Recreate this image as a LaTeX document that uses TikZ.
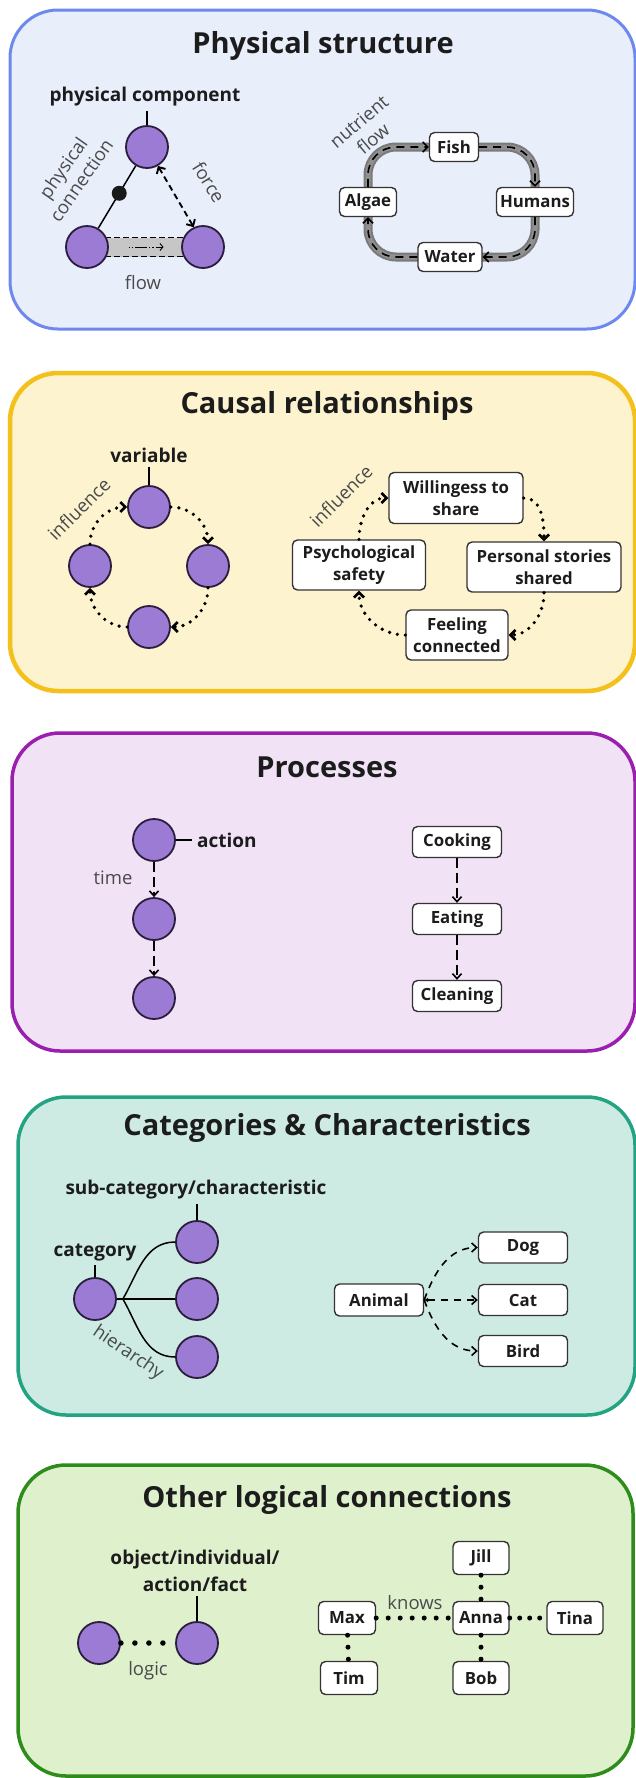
\documentclass[tikz,border=0pt]{standalone}
\usepackage{fontspec}
\setmainfont{Open Sans}
\usetikzlibrary{arrows.meta,calc}
\pgfdeclarelayer{panels}
\pgfdeclarelayer{under}
\pgfsetlayers{panels,under,main}
\definecolor{bluef}{HTML}{E9EEFB}
\definecolor{blued}{HTML}{6E88EE}
\definecolor{yelf}{HTML}{FDF3CF}
\definecolor{yeld}{HTML}{F3C01C}
\definecolor{purf}{HTML}{F1E2F5}
\definecolor{purd}{HTML}{9A1FAE}
\definecolor{tealf}{HTML}{CDEBE3}
\definecolor{teald}{HTML}{22A381}
\definecolor{grnf}{HTML}{DFF0CD}
\definecolor{grnd}{HTML}{2D8C1A}
\definecolor{circf}{HTML}{9B7BD4}
\definecolor{circd}{HTML}{2B1D3D}
\definecolor{titlec}{HTML}{1C1C1C}
\definecolor{labc}{HTML}{4A4A4A}
\definecolor{boxd}{HTML}{333333}
\definecolor{bandc}{HTML}{7A7A7A}
\definecolor{bandm}{HTML}{909090}
\definecolor{flowg}{HTML}{C6C6C6}
\begin{document}
\begin{tikzpicture}[x=1pt,y=1pt,
  panel/.style={rounded corners=48pt},
  ttl/.style={font=\fontsize{29}{33}\selectfont\bfseries, text=titlec, inner sep=0pt},
  blab/.style={font=\fontsize{19}{27}\selectfont\bfseries, text=titlec, inner sep=0pt},
  lab/.style={font=\fontsize{18.5}{22}\selectfont, text=labc, inner sep=0pt},
  comp/.style={circle, fill=circf, draw=circd, line width=1.8pt, minimum size=42pt, inner sep=0pt},
  box/.style={rectangle, rounded corners=5pt, draw=boxd, fill=white, line width=1.4pt,
    font=\fontsize{16.8}{22}\selectfont\bfseries, text=titlec, align=center,
    minimum height=30pt, inner sep=2pt},
  conn/.style={line width=1.5pt, draw=black},
  tip/.style={-{Straight Barb[length=5pt,width=9pt]}},
  dotarrow/.style={line width=3.6pt, dash pattern=on 0pt off 8pt, line cap=round,
    -{Straight Barb[length=5pt,width=10pt,line width=2.6pt]}},
  dasharrow/.style={line width=1.6pt, dash pattern=on 10pt off 5pt, tip},
  dashfan/.style={line width=1.6pt, dash pattern=on 7pt off 6pt},
  loopd/.style={line width=1.6pt, dash pattern=on 8pt off 6pt, rounded corners=28pt,
    -{Straight Barb[length=5pt,width=10pt]}},
  bigdots/.style={line width=5pt, dash pattern=on 0pt off 12pt, line cap=round},
]
\useasboundingbox (0,0) rectangle (636,-1778);
\begin{pgfonlayer}{panels}
\fill[white] (0,0) rectangle (636,-1778);
\draw[panel, fill=bluef, draw=blued, line width=3pt] (10,-10) rectangle (635,-329);
\draw[panel, fill=yelf, draw=yeld, line width=4.5pt] (10,-373) rectangle (635,-691);
\draw[panel, fill=purf, draw=purd, line width=3.5pt] (12,-733) rectangle (635,-1051);
\draw[panel, fill=tealf, draw=teald, line width=3.5pt] (18,-1097) rectangle (635,-1415);
\draw[panel, fill=grnf, draw=grnd, line width=3.5pt] (18,-1465) rectangle (633,-1776);
\end{pgfonlayer}

% ---------- Panel 1: Physical structure ----------
\node[ttl] (t1) at (323,-46) {Physical structure};
\node[blab] (pcl) at (145,-97) {physical component};
\node[comp] (c1) at (147,-147) {};
\node[comp] (c2) at (87,-247) {};
\node[comp] (c3) at (203,-247) {};
\draw[conn, shorten <=4pt] (c1.north |- pcl.south) -- (c1.north);
\draw[conn] (c1) -- (c2) node[pos=0.44, circle, fill=black!90, minimum size=15pt, inner sep=0pt] (dot) {};
\node[lab, rotate=55, align=center] (pcn) at (72,-174) {physical\\connection};
\draw[line width=1.9pt, dash pattern=on 6pt off 4pt,
  {Straight Barb[length=5pt,width=10pt]}-{Straight Barb[length=5pt,width=10pt]}]
  (c1.-60) -- (c3.115);
\node[lab, rotate=-58] (frc) at (209,-182) {force};
\begin{pgfonlayer}{under}
\fill[flowg] ($(c2.center)+(0,9.5)$) rectangle ($(c3.center)+(0,-9.5)$);
\draw[line width=1.4pt, dash pattern=on 6pt off 3pt] ($(c2.center)+(18,9.5)$) -- ($(c3.center)+(-18,9.5)$);
\draw[line width=1.4pt, dash pattern=on 6pt off 3pt] ($(c2.center)+(18,-9.5)$) -- ($(c3.center)+(-18,-9.5)$);
\end{pgfonlayer}
\draw[line width=0.9pt, dash pattern=on 1.2pt off 2pt on 1.2pt off 2pt on 12pt off 2pt,
  -{Straight Barb[length=3pt,width=7pt]}]
  ($(c2.center)!0.36!(c3.center)$) -- ($(c2.center)!0.66!(c3.center)$);
\node[lab] (flw) at (143,-283) {flow};

\node[box, minimum width=49pt, minimum height=29pt] (fish) at (454,-147) {Fish};
\node[box, minimum width=77pt, minimum height=29pt] (hum) at (535,-202) {Humans};
\node[box, minimum width=57pt, minimum height=29pt] (alg) at (368,-202) {Algae};
\node[box, minimum width=64pt, minimum height=29pt] (wat) at (450,-257) {Water};
\begin{pgfonlayer}{under}
\draw[line width=9pt, draw=bandc, rounded corners=28pt]
  (alg.center) |- (fish.center) -| (hum.center) |- (wat.center) -| (alg.center);
\draw[line width=5pt, draw=bandm, rounded corners=28pt]
  (alg.center) |- (fish.center) -| (hum.center) |- (wat.center) -| (alg.center);
\end{pgfonlayer}
\draw[loopd] (alg.north) |- (fish.west);
\draw[loopd] (fish.east) -| (hum.north);
\draw[loopd] (hum.south) |- (wat.east);
\draw[loopd] (wat.west) -| (alg.south);
\node[lab, rotate=40, align=center] (nf) at (366,-130) {nutrient\\flow};

% ---------- Panel 2: Causal relationships ----------
\node[ttl] (t2) at (327,-406) {Causal relationships};
\node[blab] (varl) at (149,-455) {variable};
\node[comp] (v1) at (149,-507) {};
\node[comp] (v2) at (90,-566) {};
\node[comp] (v3) at (208,-566) {};
\node[comp] (v4) at (149,-627) {};
\draw[conn, shorten <=4pt] (v1.north |- varl.south) -- (v1.north);
\draw[dotarrow] (v2.north) to[out=90,in=180] (v1.west);
\draw[dotarrow] (v1.east) to[out=0,in=90] (v3.north);
\draw[dotarrow] (v3.south) to[out=-90,in=0] (v4.east);
\draw[dotarrow] (v4.west) to[out=180,in=-90] (v2.south);
\node[lab, rotate=45] (inf1) at (79,-509) {influence};

\node[box, minimum width=134pt, minimum height=51pt] (will) at (456,-498) {Willingess to\\share};
\node[box, minimum width=133pt, minimum height=50pt] (psy) at (359,-565) {Psychological\\safety};
\node[box, minimum width=154pt, minimum height=50pt] (pers) at (544,-567) {Personal stories\\shared};
\node[box, minimum width=102pt, minimum height=50pt] (feel) at (457,-635) {Feeling\\connected};
\draw[dotarrow] (psy.north) to[out=90,in=180] (will.west);
\draw[dotarrow] (will.east) to[out=0,in=90] (pers.north);
\draw[dotarrow] (pers.south) to[out=-90,in=0] (feel.east);
\draw[dotarrow] (feel.west) to[out=180,in=-90] (psy.south);
\node[lab, rotate=45] (inf2) at (341,-496) {influence};

% ---------- Panel 3: Processes ----------
\node[ttl] (t3) at (327,-767) {Processes};
\node[comp] (a1) at (154,-840) {};
\node[comp] (a2) at (154,-919) {};
\node[comp] (a3) at (154,-998) {};
\node[blab, anchor=west] (actl) at (197,-840) {action};
\draw[conn, shorten >=5pt] (a1.east) -- (actl.west);
\draw[dasharrow] (a1.south) -- (a2.north);
\draw[dasharrow] (a2.south) -- (a3.north);
\node[lab] (time) at (113,-878) {time};
\node[box, minimum width=89pt, minimum height=31pt] (cook) at (457,-842) {Cooking};
\node[box, minimum width=89pt, minimum height=31pt] (eat) at (457,-919) {Eating};
\node[box, minimum width=89pt, minimum height=31pt] (clean) at (457,-996) {Cleaning};
\draw[dasharrow] (cook) -- (eat);
\draw[dasharrow] (eat) -- (clean);

% ---------- Panel 4: Categories & Characteristics ----------
\node[ttl] (t4) at (327,-1128) {Categories \& Characteristics};
\node[blab] (subl) at (196,-1190) {sub-category/characteristic};
\node[comp] (s1) at (197,-1242) {};
\node[comp] (s2) at (197,-1299) {};
\node[comp] (s3) at (197,-1357) {};
\node[comp] (cat) at (95,-1299) {};
\node[blab] (catl) at (95,-1252) {category};
\draw[conn, shorten <=4pt] (s1.north |- subl.south) -- (s1.north);
\draw[conn, shorten <=4pt] (cat.north |- catl.south) -- (cat.north);
\coordinate (hub) at ($(cat.east)+(6,0)$);
\draw[conn] (cat.east) -- (hub);
\draw[conn] (hub) to[out=60,in=180] (s1.west);
\draw[conn] (hub) -- (s2.west);
\draw[conn] (hub) to[out=-60,in=180] (s3.west);
\node[lab, rotate=-34] (hier) at (128,-1353) {hierarchy};

\node[box, minimum width=89pt, minimum height=32pt] (anim) at (379,-1300) {Animal};
\node[box, minimum width=89pt, minimum height=31pt] (dog) at (523,-1247.5) {Dog};
\node[box, minimum width=89pt, minimum height=31pt] (catn) at (523,-1300) {Cat};
\node[box, minimum width=89pt, minimum height=31pt] (bird) at (523,-1351) {Bird};
\draw[dashfan, tip] (anim.east) to[out=70,in=180] (dog.west);
\draw[dashfan, {Latex[length=4pt,width=5pt]}-{Straight Barb[length=5pt,width=9pt]}] (anim.east) -- (catn.west);
\draw[dashfan, tip] (anim.east) to[out=-70,in=180] (bird.west);

% ---------- Panel 5: Other logical connections ----------
\node[ttl] (t5) at (327,-1500) {Other logical connections};
\node[blab, align=center] (objl) at (195,-1571) {object/individual/\\action/fact};
\node[comp] (l1) at (99,-1643) {};
\node[comp] (l2) at (197,-1643) {};
\draw[conn, shorten <=4pt] (l2.north |- objl.south) -- (l2.north);
\draw[bigdots, line width=5.5pt, dash pattern=on 0pt off 14pt] (l1.east) -- (l2.west);
\node[lab] (logic) at (148,-1671) {logic};

\node[box, minimum width=56pt, minimum height=33pt] (jill) at (481,-1558) {Jill};
\node[box, minimum width=56pt, minimum height=33pt] (anna) at (481,-1618) {Anna};
\node[box, minimum width=57pt, minimum height=33pt] (maxn) at (347,-1618) {Max};
\node[box, minimum width=56pt, minimum height=33pt] (tina) at (575,-1618) {Tina};
\node[box, minimum width=57pt, minimum height=33pt] (tim) at (349,-1678) {Tim};
\node[box, minimum width=56pt, minimum height=33pt] (bob) at (481,-1678) {Bob};
\draw[bigdots] (maxn) -- (anna);
\draw[bigdots, dash pattern=on 0pt off 10pt] (anna) -- (tina);
\draw[bigdots] (jill) -- (anna);
\draw[bigdots] (anna) -- (bob);
\draw[bigdots] (maxn) -- (tim);
\node[lab] (knows) at (415,-1603) {knows};
\end{tikzpicture}
\end{document}
